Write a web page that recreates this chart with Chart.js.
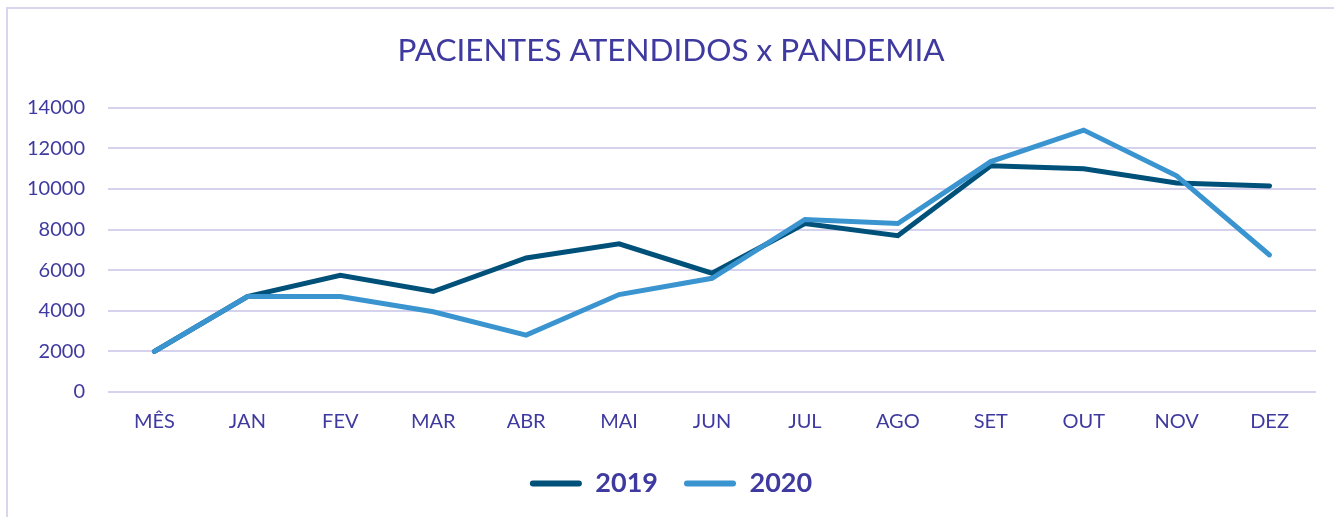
<!DOCTYPE html>
<html>
<head>
<meta charset="utf-8">
<script src="https://cdn.jsdelivr.net/npm/chart.js@4.4.0/dist/chart.umd.min.js"></script>
<style>
  html, body { margin: 0; padding: 0; background: #fff; overflow: hidden; }
  #frame { position: absolute; left: 6px; top: 7px; width: 1340px; height: 520px; border: 2px solid #D9D5EE; }
  #wrap { position: absolute; left: 0; top: 0; width: 1334px; height: 517px; }
</style>
</head>
<body>
<div id="frame"></div>
<div id="wrap"><canvas id="chart"></canvas></div>
<script>
const months = ['MÊS', 'JAN', 'FEV', 'MAR', 'ABR', 'MAI', 'JUN', 'JUL', 'AGO', 'SET', 'OUT', 'NOV', 'DEZ'];
const values2019 = [2000, 4700, 5750, 4950, 6600, 7300, 5850, 8300, 7700, 11150, 11000, 10300, 10150];
const values2020 = [2000, 4700, 4700, 3950, 2800, 4800, 5600, 8500, 8300, 11350, 12900, 10650, 6750];
const yTicks = [0, 2000, 4000, 6000, 8000, 10000, 12000, 14000];

const textColor = '#3F3A9F';
const gridColor = '#D6D2EE';

const ctx = document.getElementById('chart');

new Chart(ctx, {
    type: 'line',
    data: {
        labels: months,
        datasets: [{
            label: '2019',
            data: values2019,
            borderColor: '#005179',
            backgroundColor: '#005179',
            borderWidth: 5,
            pointRadius: 0,
            tension: 0,
            borderCapStyle: 'round',
            order: 1
        }, {
            label: '2020',
            data: values2020,
            borderColor: '#3A94CF',
            backgroundColor: '#3A94CF',
            borderWidth: 5,
            pointRadius: 0,
            tension: 0,
            borderCapStyle: 'round',
            order: 0
        }]
    },
    options: {
        responsive: true,
        maintainAspectRatio: false,
        animation: false,
        layout: { padding: { left: 26, right: 18, top: 20, bottom: 10 } },
        plugins: {
            tooltip: { enabled: false },
            title: {
                display: true,
                text: 'PACIENTES ATENDIDOS x PANDEMIA',
                color: textColor,
                font: { family: 'Lato', size: 31.5, weight: 'normal' },
                padding: { top: 12, bottom: 38 }
            },
            legend: {
                position: 'bottom',
                labels: {
                    color: textColor,
                    font: { family: 'Lato', size: 27, weight: 'bold' },
                    boxWidth: 52,
                    boxHeight: 6,
                    padding: 26,
                    useBorderRadius: true,
                    sort: (a, b) => a.datasetIndex - b.datasetIndex,
                    generateLabels: (chart) =>
                        Chart.defaults.plugins.legend.labels.generateLabels(chart).map(l => ({
                            ...l, fillStyle: l.strokeStyle, lineWidth: 0, borderRadius: 3
                        }))
                }
            }
        },
        scales: {
            x: {
                offset: true,
                grid: { display: false },
                border: { display: false },
                ticks: {
                    color: textColor,
                    font: { family: 'Lato', size: 20 },
                    padding: 10
                }
            },
            y: {
                min: 0,
                max: 14000,
                afterBuildTicks: (axis) => { axis.ticks = yTicks.map(v => ({ value: v })); },
                afterFit: (axis) => { axis.width = 82; },
                grid: { color: gridColor, lineWidth: 2, drawTicks: false },
                border: { display: false },
                ticks: {
                    color: textColor,
                    font: { family: 'Lato', size: 20 },
                    padding: 23,
                    callback: (v) => String(v)
                }
            }
        }
    }
});
</script>
</body>
</html>
